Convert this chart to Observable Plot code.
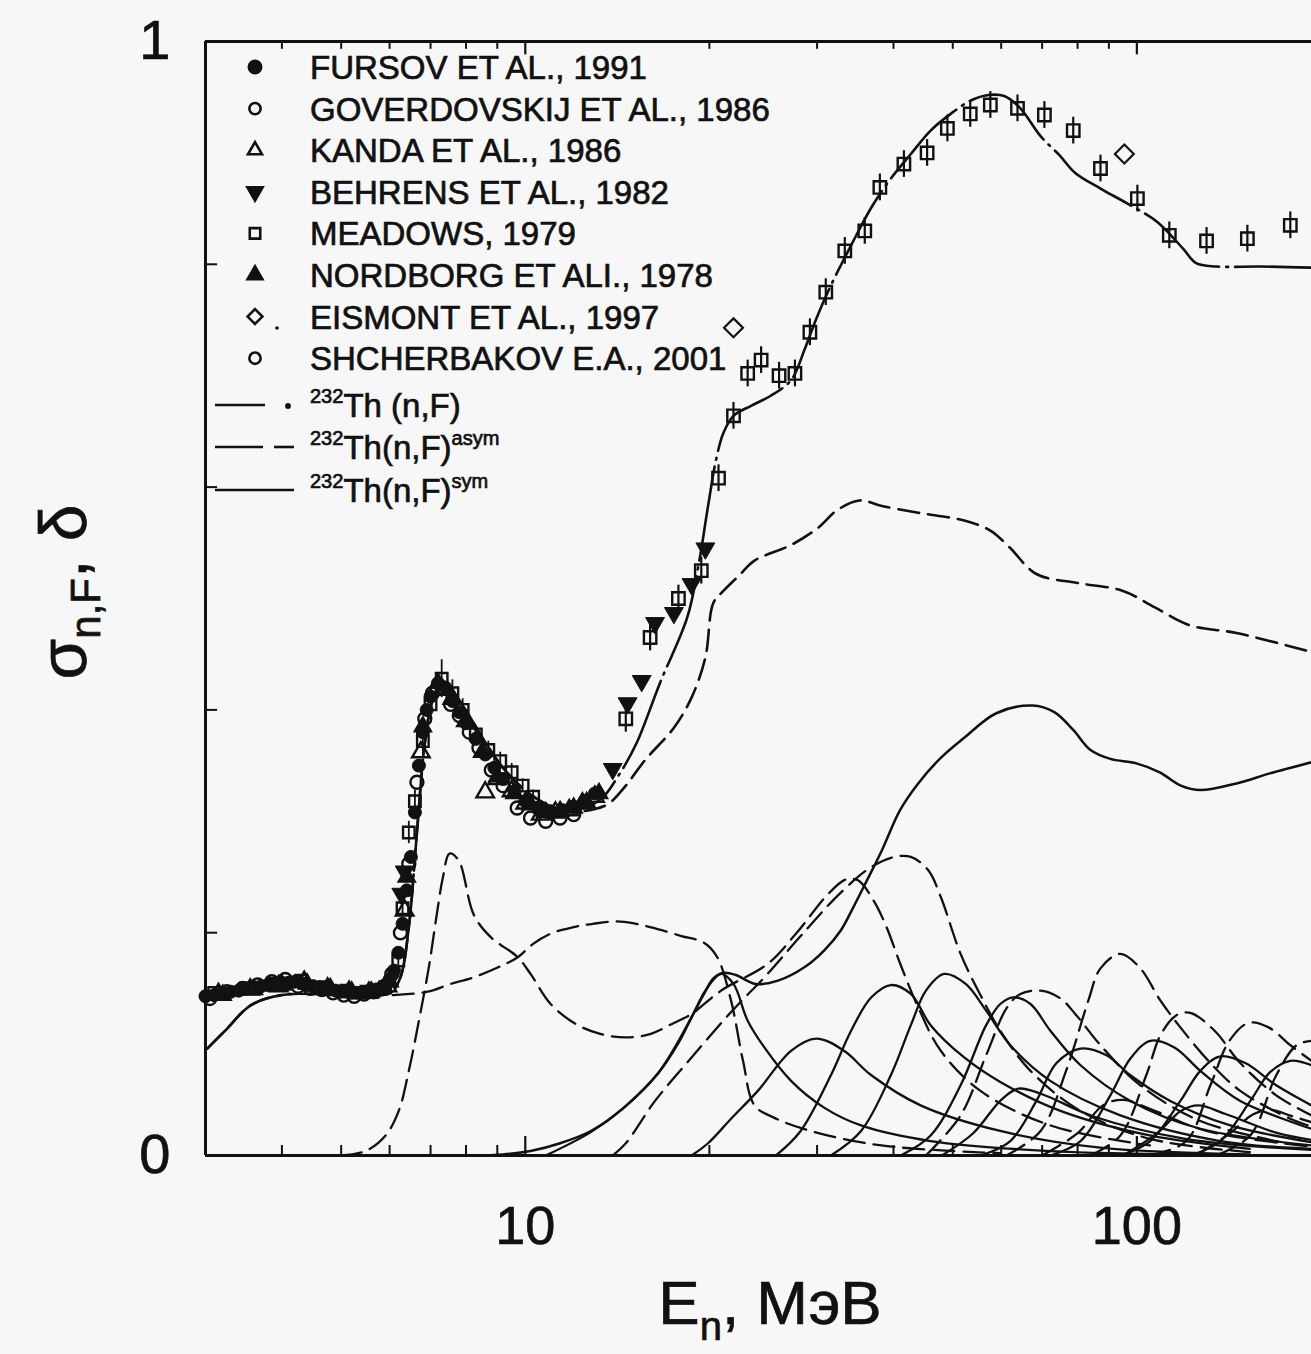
<!DOCTYPE html>
<html><head><meta charset="utf-8">
<script src="https://cdn.jsdelivr.net/npm/d3@7"></script>
<script src="https://cdn.jsdelivr.net/npm/@observablehq/plot@0.6"></script>
<style>
html,body{margin:0;padding:0;background:#f7f7f7;}
#chart{position:relative;width:1311px;height:1354px;overflow:hidden;}
svg{font-family:"Liberation Sans",Arial,Helvetica,sans-serif;}
svg text{stroke:#111;stroke-width:0.7px;}
</style></head><body><div id="chart"></div>
<script>
// ---------- experimental data [E (MeV), sigma] ----------
const fursov = [[3.0,.143],[3.1,.144],[3.2,.146],[3.3,.147],[3.4,.148],[3.5,.150],[3.6,.151],[3.7,.152],[3.8,.153],[3.9,.154],[4.0,.155],[4.1,.155],[4.2,.156],[4.3,.155],[4.4,.153],[4.5,.152],[4.6,.151],[4.7,.150],[4.8,.149],[4.9,.148],[5.0,.147],[5.1,.147],[5.2,.146],[5.3,.146],[5.4,.146],[5.5,.147],[5.6,.148],[5.7,.149],[5.8,.150],[5.9,.153],[6.0,.158],[6.1,.166],[6.2,.182],[6.3,.208],[6.4,.238],[6.5,.268],[6.6,.308],[6.7,.350],[6.8,.380],[6.9,.400],[7.0,.412],[7.2,.424],[7.4,.420],[7.6,.408],[7.8,.398],[8.0,.388],[8.3,.374],[8.6,.360],[8.9,.348],[9.2,.338],[9.6,.327],[10.0,.318],[10.5,.312],[11.0,.309],[11.5,.310],[12.0,.313],[12.5,.318],[13.0,.325]];
const goverdovskij = [[3.05,.141],[3.25,.147],[3.45,.150],[3.65,.153],[3.85,.156],[4.05,.158],[4.25,.152],[4.45,.150],[4.65,.149],[4.85,.146],[5.05,.144],[5.25,.143],[5.45,.145],[5.65,.147],[5.85,.150],[6.05,.163],[6.25,.200],[6.45,.262],[6.65,.335],[6.85,.392],[7.05,.415],[7.3,.420],[7.55,.405],[7.8,.395],[8.1,.380],[8.4,.366],[8.8,.346],[9.2,.332],[9.7,.312],[10.2,.303],[10.8,.300],[11.4,.303],[12.0,.306]];
const kanda = [[3.15,.145],[3.55,.149],[3.95,.152],[4.35,.156],[4.75,.150],[5.15,.147],[5.55,.146],[5.95,.152],[6.35,.220],[6.75,.362],[7.15,.418],[7.6,.410],[8.0,.390],[8.6,.326],[9.0,.338],[9.5,.327],[10.0,.316],[10.6,.306],[11.2,.308],[11.8,.310],[12.4,.316],[13.0,.322]];
const behrens = [[6.27,.235],[6.35,.255],[13.9,.347],[14.7,.406],[15.5,.426],[16.3,.478],[17.5,.487],[18.7,.513],[19.7,.545]];
const meadows = [[3.1,.146],[3.5,.150],[3.9,.154],[4.3,.157],[4.7,.151],[5.1,.148],[5.5,.147],[5.9,.151],[6.2,.175],[6.3,.222],[6.45,.290],[6.6,.318],[6.8,.372],[7.0,.405],[7.3,.428],[7.6,.415],[7.9,.400],[8.3,.378],[8.7,.364],[9.1,.354],[9.5,.344],[9.9,.332],[10.3,.322]];
const meadowsErr = [.004,.004,.004,.004,.004,.004,.004,.004,.006,.008,.010,.010,.012,.014,.017,.012,.010,.008,.008,.008,.008,.006,.006];
const nordborg = [[3.2,.144],[3.6,.149],[4.0,.153],[4.4,.154],[4.8,.150],[5.2,.147],[5.6,.147],[6.0,.156],[6.4,.250],[6.8,.385],[7.2,.424],[7.6,.410],[8.0,.390],[8.5,.362],[9.0,.340],[9.6,.325],[10.2,.315],[10.8,.308],[11.4,.309],[12.0,.312],[12.6,.317],[13.2,.325]];
const eismont = [[21.9,.743],[95.4,.899]];
const shcherbakov = [[14.6,.392],[16.0,.465],[17.8,.500],[19.4,.525],[20.7,.608],[21.9,.664],[23.1,.702],[24.3,.714],[26.0,.700],[27.6,.702],[29.2,.739],[31.0,.775],[33.3,.812],[35.9,.830],[38.0,.869],[41.6,.890],[45.4,.900],[49.0,.922],[53.4,.935],[57.6,.943],[63.8,.940],[70.6,.934],[78.7,.920],[87.2,.886],[100.2,.859],[113,.826],[130,.821],[151.6,.823],[178.2,.835]];

// ---------- calculated curves [E, sigma] ----------
const totalCurve = [[3.02,.096],[3.23,.112],[3.56,.135],[4.00,.144],[4.63,.145],[5.38,.144],[6.02,.146],[6.25,.160],[6.45,.205],[6.65,.290],[6.85,.370],[7.05,.408],[7.30,.422],[7.61,.416],[7.99,.400],[8.62,.370],[9.29,.345],[10.2,.324],[11.2,.312],[12.2,.311],[13.3,.320],[14.2,.341],[15.2,.370],[16.6,.424],[18.4,.483],[19.2,.530],[19.9,.583],[20.5,.624],[21.1,.649],[21.9,.664],[23.4,.673],[25.2,.682],[27.2,.696],[28.6,.723],[29.9,.751],[31.6,.781],[34.1,.817],[36.8,.851],[39.6,.877],[42.7,.899],[46.0,.920],[49.6,.935],[53.5,.947],[57.2,.952],[60.7,.951],[64.5,.940],[69.6,.915],[74.7,.898],[79.3,.882],[87.2,.868],[97.6,.853],[108,.838],[119,.814],[125,.801],[135,.798],[159,.798],[193,.797]];
const asymCurve = [[3.02,.096],[3.23,.112],[3.56,.135],[4.00,.144],[4.63,.145],[5.38,.144],[6.02,.146],[6.25,.160],[6.45,.205],[6.65,.290],[6.85,.370],[7.05,.408],[7.30,.422],[7.61,.416],[7.99,.400],[8.62,.370],[9.29,.345],[10.2,.324],[11.2,.312],[12.2,.309],[13.0,.311],[13.7,.316],[14.6,.332],[15.7,.355],[17.5,.384],[18.7,.411],[19.7,.447],[20.3,.496],[21.1,.507],[22.4,.521],[23.7,.534],[27.2,.548],[30.2,.564],[32.3,.579],[35.2,.588],[38.3,.583],[43.9,.577],[52.2,.570],[57.6,.561],[61.9,.546],[68.5,.522],[79.9,.514],[94.7,.507],[107,.492],[122,.476],[145.5,.469],[193,.452]];
const symCurve = [[8.2,0],[9.2,.001],[10.2,.004],[11.4,.011],[12.8,.022],[14.5,.043],[16.5,.074],[17.8,.101],[18.7,.124],[19.6,.145],[20.3,.159],[21.1,.164],[22.1,.162],[23.8,.154],[25.9,.157],[28.6,.169],[30.8,.184],[32.8,.202],[34.4,.223],[36.2,.247],[38.3,.274],[41.0,.310],[43.9,.334],[47.8,.357],[52.2,.375],[58.9,.397],[67.5,.404],[73.3,.398],[78.7,.382],[84.0,.364],[90.5,.356],[99.8,.352],[109,.344],[118,.332],[127,.328],[145.5,.334],[165,.343],[193,.353]];

// asymmetric partial contributions (dashed)
const asym1 = [[6.07,.144],[6.92,.147],[7.55,.154],[8.24,.160],[9.12,.170],[9.72,.178],[10.3,.190],[11.1,.200],[12.0,.205],[12.9,.208],[14.3,.210],[16.0,.205],[18.0,.197],[19.6,.191],[20.6,.178],[21.7,.139],[22.7,.085],[23.7,.045],[25.5,.034],[29.3,.022],[38.2,.009],[59.8,.002]];
const asym2 = [[4.99,0],[5.48,.004],[5.91,.018],[6.21,.040],[6.45,.076],[6.70,.121],[6.95,.168],[7.16,.215],[7.33,.249],[7.52,.271],[7.78,.265],[8.24,.216],[8.78,.196],[9.72,.178],[10.2,.163],[11.0,.136],[12.1,.118],[13.3,.109],[14.6,.106],[16.0,.109],[17.5,.119],[18.7,.127],[20.9,.148],[24.9,.172],[27.7,.199],[31.3,.235],[33.5,.248],[35.0,.247],[37.1,.229],[38.9,.206],[41.1,.171],[43.9,.133],[47.8,.094],[55.5,.058],[72.2,.027],[105,.009]];
const asym3 = [[13.9,0],[14.6,.011],[16.3,.049],[18.7,.088],[21.8,.130],[24.8,.162],[28.2,.197],[32.8,.236],[36.8,.259],[40.1,.268],[42.7,.268],[45.6,.256],[47.8,.232],[51.5,.181],[55.5,.144],[59.8,.112],[67.0,.076],[80.9,.040],[105,.015],[153,.003]];
const asym4 = [[45.2,0],[51.5,.036],[56.7,.090],[61.2,.132],[64.5,.145],[69.6,.148],[75.0,.141],[79.6,.126],[87.2,.099],[101.3,.063],[127,.031],[172,.012]];
const asym5 = [[61.2,0],[69.6,.022],[76.6,.076],[83.3,.139],[87.2,.168],[94.0,.181],[101.3,.168],[109.3,.139],[117.8,.115],[130.9,.085],[147.6,.058],[178.2,.033],[193,.026]];
const asym6 = [[84.0,0],[94.0,.018],[103.6,.072],[109.3,.108],[116.1,.126],[122.3,.128],[134,.112],[147.6,.083],[169,.054],[193,.036]];
const asym7 = [[105,0],[120.5,.013],[131.9,.063],[141.7,.103],[152.2,.119],[164.2,.115],[178.2,.099],[193,.085]];
const asym8 = [[134.9,0],[153.3,.018],[169,.072],[182.4,.099],[193,.103]];
const asym9 = [[70,0],[80,.02],[88,.045],[95,.05],[105,.042],[130,.022],[193,.008]];
const asym10 = [[125,0],[142,.02],[155,.037],[165,.041],[180,.035],[193,.03]];

// symmetric partial contributions (solid)
const sym1 = [[10.8,0],[12.8,.021],[14.5,.043],[16.5,.074],[18.7,.124],[19.7,.148],[20.9,.163],[21.9,.154],[23.1,.121],[24.6,.097],[27.2,.067],[30.8,.043],[35.4,.027],[46.0,.013],[72.2,.004],[127,.001]];
const sym2 = [[18.7,0],[19.9,.011],[21.7,.033],[24.0,.058],[27.2,.094],[29.9,.105],[33.2,.094],[36.8,.072],[44.3,.045],[59.8,.022],[87.2,.007],[153,.001]];
const sym3 = [[25.7,0],[28.2,.022],[31.6,.072],[34.1,.112],[36.8,.142],[39.6,.153],[42.7,.145],[46.0,.117],[52.2,.088],[59.8,.066],[75.0,.040],[105,.018],[153,.006]];
const sym4 = [[31.6,0],[35.4,.022],[39.6,.072],[42.7,.117],[45.2,.148],[48.4,.163],[52.5,.154],[56.7,.130],[62.1,.099],[72.2,.067],[94.0,.036],[136.9,.013],[193,.006]];
const sym5 = [[41.1,0],[46.0,.018],[51.5,.063],[56.7,.117],[59.8,.136],[62.8,.142],[67.0,.136],[72.2,.112],[80.9,.081],[97.6,.049],[127,.024],[193,.009]];
const sym6 = [[55.5,0],[62.1,.013],[68.5,.049],[73.9,.083],[80.9,.096],[89.2,.090],[97.6,.072],[113.4,.049],[142.2,.027],[193,.012]];
const sym7 = [[72.2,0],[80.9,.013],[90.5,.054],[97.6,.087],[105.2,.103],[115.2,.097],[127,.076],[147.6,.049],[193,.024]];
const sym8 = [[94.0,0],[105.2,.013],[117.8,.049],[127,.076],[136.9,.089],[150.4,.083],[169,.063],[193,.045]];
const sym9 = [[122.3,0],[136.9,.013],[153.3,.049],[165.3,.075],[178.2,.085],[193,.081]];
const sym10 = [[48,0],[54,.02],[60,.05],[64,.06],[70,.055],[85,.035],[120,.015],[193,.005]];
const sym11 = [[95,0],[108,.02],[118,.04],[126,.045],[140,.037],[170,.02],[193,.014]];

// ---------- axis / legend text ----------
const xTickLabels = [10, 100];
const xMinorTicks = [4,5,6,7,8,9,20,30,40,50,60,70,80,90];
const yTickLabels = [0, 1];
const yMinorTicks = [0.2,0.4,0.6,0.8];
const legendLabels = ["FURSOV ET AL., 1991","GOVERDOVSKIJ ET AL., 1986","KANDA ET AL., 1986","BEHRENS ET AL., 1982","MEADOWS, 1979","NORDBORG ET ALI., 1978","EISMONT ET AL., 1997","SHCHERBAKOV E.A., 2001"];
const curveLabels = [["232","Th (n,F)",""],["232","Th(n,F)","asym"],["232","Th(n,F)","sym"]];

// ---------- build ----------
const ink = "#111";
const pts = arr => arr.map(([E, s]) => ({E, s}));
const ptsErr = (arr, err) => arr.map(([E, s], i) => ({E, s, e: err[i]}));
const DASH = "21,9";
const line = (arr, dash, w = 2.4) => Plot.line(pts(arr), {x: "E", y: "s", stroke: ink, strokeWidth: w, strokeDasharray: dash, curve: "catmull-rom", clip: true});

const asymParts = [asym1, asym2, asym3, asym4, asym5, asym6, asym7, asym8, asym9, asym10];
const symParts = [sym1, sym2, sym3, sym4, sym5, sym6, sym7, sym8, sym9, sym10, sym11];

const chart = Plot.plot({
  width: 1311, height: 1354,
  marginLeft: 205, marginRight: 0, marginTop: 41, marginBottom: 199,
  style: {background: "transparent", fontFamily: "Liberation Sans, Arial, sans-serif", color: ink},
  x: {type: "log", domain: [3, 193]},
  y: {domain: [0, 1]},
  marks: [
    ...symParts.map(a => line(a, null, 2.3)),
    ...asymParts.map(a => line(a, DASH, 2.3)),
    line(symCurve, null, 2.5),
    line(asymCurve, DASH, 2.6),
    line(totalCurve, "95,7,2,7", 2.6),
    // error bars
    Plot.ruleX(ptsErr(meadows, meadowsErr), {x: "E", y1: d => d.s - d.e, y2: d => d.s + d.e, stroke: ink, strokeWidth: 1.8}),
    Plot.ruleX(pts(shcherbakov), {x: "E", y1: d => d.s - 0.012, y2: d => d.s + 0.012, stroke: ink, strokeWidth: 2.2}),
    // markers
    Plot.dot(pts(goverdovskij), {x: "E", y: "s", r: 6.5, symbol: "circle", fill: "none", stroke: ink, strokeWidth: 2.4}),
    Plot.dot(pts(meadows), {x: "E", y: "s", r: 6.5, symbol: "square", fill: "none", stroke: ink, strokeWidth: 2.4}),
    Plot.dot(pts(kanda), {x: "E", y: "s", r: 6.5, symbol: "triangle", fill: "none", stroke: ink, strokeWidth: 2.4}),
    Plot.dot(pts(nordborg), {x: "E", y: "s", r: 6.5, symbol: "triangle", fill: ink, stroke: ink, strokeWidth: 1.5}),
    Plot.dot(pts(fursov), {x: "E", y: "s", r: 6.5, symbol: "circle", fill: ink, stroke: ink, strokeWidth: 1}),
    Plot.dot(pts(behrens), {x: "E", y: "s", r: 7, symbol: "triangle", rotate: 180, fill: ink, stroke: ink, strokeWidth: 1}),
    Plot.dot(pts(shcherbakov), {x: "E", y: "s", r: 7, symbol: "square", fill: "none", stroke: ink, strokeWidth: 2.4}),
    Plot.dot(pts(eismont), {x: "E", y: "s", r: 8.5, symbol: "diamond2", fill: "none", stroke: ink, strokeWidth: 2.2}),
    // frame
    Plot.ruleY([0, 1], {stroke: ink, strokeWidth: 3}),
    Plot.ruleX([3], {y1: 0, y2: 1, stroke: ink, strokeWidth: 3}),
    // ticks (inward)
    Plot.ruleX(xMinorTicks, {y1: 0, y2: 0.009, stroke: ink, strokeWidth: 2}),
    Plot.ruleX(xMinorTicks, {y1: 1, y2: 0.993, stroke: ink, strokeWidth: 2}),
    Plot.ruleX(xTickLabels, {y1: 0, y2: 0.017, stroke: ink, strokeWidth: 2.2}),
    Plot.ruleX(xTickLabels, {y1: 1, y2: 0.988, stroke: ink, strokeWidth: 2.2}),
    Plot.ruleY(yMinorTicks, {x1: 3, x2: 3.14, stroke: ink, strokeWidth: 2}),
    // tick labels
    Plot.axisX(xTickLabels, {tickSize: 0, tickPadding: 50, fontSize: 54, label: null, tickFormat: d => String(d)}),
    Plot.axisY(yTickLabels, {tickSize: 0, tickPadding: 35, fontSize: 56, label: null, tickFormat: d => String(d)})
  ]
});
document.getElementById("chart").appendChild(chart);

// ---------- legend & titles ----------
const svg = d3.select(chart);
const lg = svg.append("g").attr("fill", ink).attr("font-size", 33).attr("text-anchor", "start");
const legendSymbols = [
  {t: d3.symbolCircle, fill: true, rot: 0, s: 120},
  {t: d3.symbolCircle, fill: false, rot: 0, s: 100},
  {t: d3.symbolTriangle, fill: false, rot: 0, s: 85},
  {t: d3.symbolTriangle, fill: true, rot: 180, s: 100},
  {t: d3.symbolSquare, fill: false, rot: 0, s: 110},
  {t: d3.symbolTriangle, fill: true, rot: 0, s: 95},
  {t: d3.symbolDiamond2, fill: false, rot: 0, s: 140},
  {t: d3.symbolCircle, fill: false, rot: 0, s: 100}
];
legendLabels.forEach((lab, i) => {
  const y = 67 + i * 41.6;
  const s = legendSymbols[i];
  lg.append("path")
    .attr("transform", `translate(255,${y}) rotate(${s.rot})`)
    .attr("d", d3.symbol(s.t, s.s)())
    .attr("fill", s.fill ? ink : "none").attr("stroke", ink).attr("stroke-width", 2.6);
  lg.append("text").attr("x", 310).attr("y", y + 12).text(lab);
});
// small dot after diamond
lg.append("circle").attr("cx", 277).attr("cy", 328).attr("r", 1.8).attr("fill", ink);

const lineRows = [405, 447, 490];
const lgl = svg.append("g").attr("stroke", ink).attr("stroke-width", 2.6);
lgl.append("line").attr("x1", 215).attr("x2", 265).attr("y1", 405).attr("y2", 405);
lgl.append("circle").attr("cx", 288).attr("cy", 406).attr("r", 1.6).attr("fill", ink);
lgl.append("line").attr("x1", 215).attr("x2", 263).attr("y1", 447).attr("y2", 447);
lgl.append("line").attr("x1", 274).attr("x2", 294).attr("y1", 447).attr("y2", 447);
lgl.append("line").attr("x1", 215).attr("x2", 294).attr("y1", 490).attr("y2", 490);
curveLabels.forEach(([iso, main, sup], i) => {
  const y = lineRows[i] + 12;
  const t = lg.append("text").attr("x", 310).attr("y", y);
  t.append("tspan").attr("font-size", 20).attr("dy", -14).text(iso);
  t.append("tspan").attr("dy", 14).text(main);
  if (sup) t.append("tspan").attr("font-size", 20).attr("dy", -14).text(sup);
});

// y title
const yl = svg.append("text").attr("transform", "translate(86,592) rotate(-90)")
  .attr("text-anchor", "middle").attr("font-size", 66).attr("fill", ink);
yl.append("tspan").text("σ");
yl.append("tspan").attr("font-size", 42).attr("dy", 14).text("n,F");
yl.append("tspan").attr("dy", -14).text(", δ");

// x title
const xl = svg.append("text").attr("x", 770).attr("y", 1324)
  .attr("text-anchor", "middle").attr("font-size", 62).attr("fill", ink);
xl.append("tspan").text("E");
xl.append("tspan").attr("font-size", 40).attr("dy", 16).text("n");
xl.append("tspan").attr("dy", -16).text(", МэВ");
</script></body></html>
